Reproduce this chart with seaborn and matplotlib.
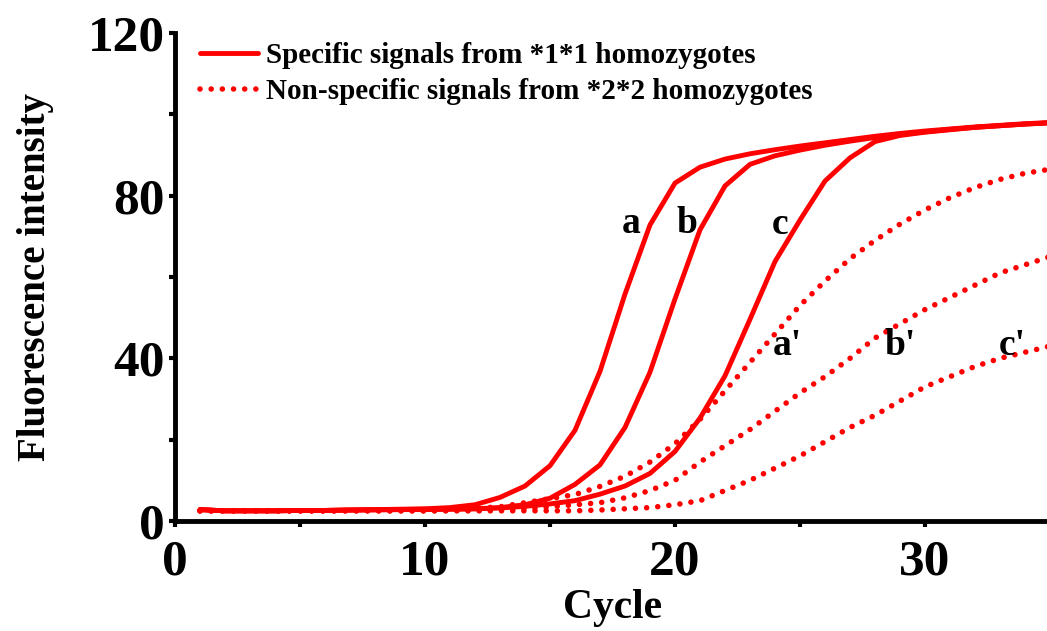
import matplotlib
matplotlib.use("Agg")
import matplotlib.pyplot as plt
import numpy as np
import pandas as pd
import seaborn as sns
from matplotlib.lines import Line2D
from matplotlib.ticker import MultipleLocator

cycles = list(range(1, 36))

# specific signals (*1*1 homozygotes)
curve_a = [2.8, 2.5, 2.5, 2.5, 2.6, 2.6, 2.7, 2.8, 2.9, 3.0, 3.3, 4.0, 5.8, 8.6, 13.6,
           22.3, 36.8, 55.8, 72.8, 83.1, 87.0, 89.0, 90.3, 91.3, 92.2, 93.0, 93.8, 94.6,
           95.3, 95.9, 96.4, 96.9, 97.3, 97.7, 98.0]
curve_b = [2.8, 2.5, 2.5, 2.5, 2.6, 2.6, 2.7, 2.8, 2.8, 2.9, 2.9, 3.0, 3.3, 4.0, 5.6,
           9.0, 13.8, 23.0, 36.6, 54.6, 71.6, 82.4, 87.7, 89.8, 91.2, 92.4, 93.4, 94.3,
           95.0, 95.7, 96.3, 96.8, 97.2, 97.6, 97.9]
curve_c = [2.8, 2.5, 2.5, 2.5, 2.6, 2.6, 2.7, 2.7, 2.8, 2.8, 2.9, 3.0, 3.2, 3.6, 4.2,
           5.0, 6.6, 8.6, 11.7, 17.1, 25.3, 35.7, 49.6, 63.8, 74.0, 83.6, 89.3, 93.3,
           94.8, 95.6, 96.2, 96.8, 97.2, 97.6, 97.9]

# non-specific signals (*2*2 homozygotes)
curve_a2 = [2.5, 2.5, 2.5, 2.5, 2.5, 2.5, 2.6, 2.6, 2.7, 2.8, 2.9, 3.1, 3.5, 4.5, 5.5,
            6.5, 8.5, 11.0, 14.5, 19.0, 25.0, 32.0, 39.0, 46.0, 53.0, 59.0, 64.5, 69.0,
            73.0, 76.5, 79.5, 82.0, 84.0, 85.5, 86.5]
curve_b2 = [2.5, 2.5, 2.5, 2.5, 2.5, 2.5, 2.5, 2.5, 2.5, 2.5, 2.6, 2.6, 2.7, 3.0, 3.5,
            4.0, 4.5, 5.7, 7.5, 10.0, 14.5, 18.5, 22.5, 27.0, 31.5, 35.5, 40.0, 45.0,
            48.5, 52.0, 55.0, 58.0, 61.0, 63.0, 65.0]
curve_c2 = [2.5, 2.5, 2.5, 2.5, 2.5, 2.5, 2.5, 2.5, 2.5, 2.5, 2.5, 2.5, 2.5, 2.5, 2.5,
            2.5, 2.7, 3.0, 3.3, 4.0, 5.0, 7.5, 10.0, 13.0, 16.0, 19.5, 23.0, 26.0, 29.5,
            33.0, 35.5, 38.0, 40.0, 41.5, 43.0]

curve_labels = ["a", "b", "c", "a'", "b'", "c'"]
label_x = [18.24, 20.48, 24.2, 24.48, 29.0, 33.48]
label_y = [70.8, 70.8, 70.6, 40.8, 40.8, 40.8]

legend_labels = ["Specific signals from *1*1 homozygotes",
                 "Non-specific signals from *2*2 homozygotes"]

sns.set_style("ticks")
plt.rcParams["font.family"] = ["Liberation Serif", "DejaVu Serif"]
plt.rcParams["font.weight"] = "bold"
plt.rcParams["text.color"] = "black"
plt.rcParams["axes.labelcolor"] = "black"
plt.rcParams["axes.edgecolor"] = "black"
plt.rcParams["xtick.color"] = "black"
plt.rcParams["ytick.color"] = "black"

red = "#ff0000"
dot_style = (0, (0.01, 2.0))

fig = plt.figure(figsize=(10.47, 6.31), dpi=100)
ax = fig.add_axes([175 / 1047, 110 / 631, 875 / 1047, 488 / 631])

for ys in [curve_a, curve_b, curve_c]:
    sns.lineplot(x=cycles, y=ys, ax=ax, color=red, linewidth=3.5,
                 solid_joinstyle="miter", zorder=3)
for ys in [curve_a2, curve_b2, curve_c2]:
    sns.lineplot(x=cycles, y=ys, ax=ax, color=red, linewidth=4.0,
                 linestyle=dot_style, dash_capstyle="round", zorder=2)

for t, x, y in zip(curve_labels, label_x, label_y):
    ax.text(x, y, t, ha="center", va="baseline", fontsize=27, fontweight="bold",
            color="black")

ax.set_xlim(0, 35)
ax.set_ylim(0, 120)
ax.xaxis.set_major_locator(MultipleLocator(10))
ax.xaxis.set_minor_locator(MultipleLocator(5))
ax.yaxis.set_major_locator(MultipleLocator(40))
ax.yaxis.set_minor_locator(MultipleLocator(20))

for side in ["top", "right"]:
    ax.spines[side].set_visible(False)
for side in ["left", "bottom"]:
    ax.spines[side].set_linewidth(3.5)
    ax.spines[side].set_color("black")
    ax.spines[side].set_capstyle("projecting")

ax.tick_params(which="both", direction="out", length=4.5, width=3.0, color="black")
ax.tick_params(axis="y", which="major", labelsize=37, pad=3)
ax.tick_params(axis="x", which="major", labelsize=37, pad=9)

for lab in ax.get_xticklabels() + ax.get_yticklabels():
    lab.set_fontweight("bold")

ax.set_xlabel("Cycle", fontsize=30, fontweight="bold", labelpad=2)
ax.set_ylabel("Fluorescence intensity", fontsize=28, fontweight="bold", labelpad=24)

handles = [Line2D([], [], color=red, linewidth=3.5),
           Line2D([], [], color=red, linewidth=4.0, linestyle=dot_style,
                  dash_capstyle="round")]
ax.legend(handles, legend_labels, loc="upper left", frameon=False,
          bbox_to_anchor=(200 / 1047, 1 - 42 / 631), bbox_transform=fig.transFigure,
          handlelength=2.0, handletextpad=0.25, labelspacing=0.3,
          borderpad=0, borderaxespad=0, prop={"weight": "bold", "size": 21})

fig.savefig("out.png", dpi=100)
